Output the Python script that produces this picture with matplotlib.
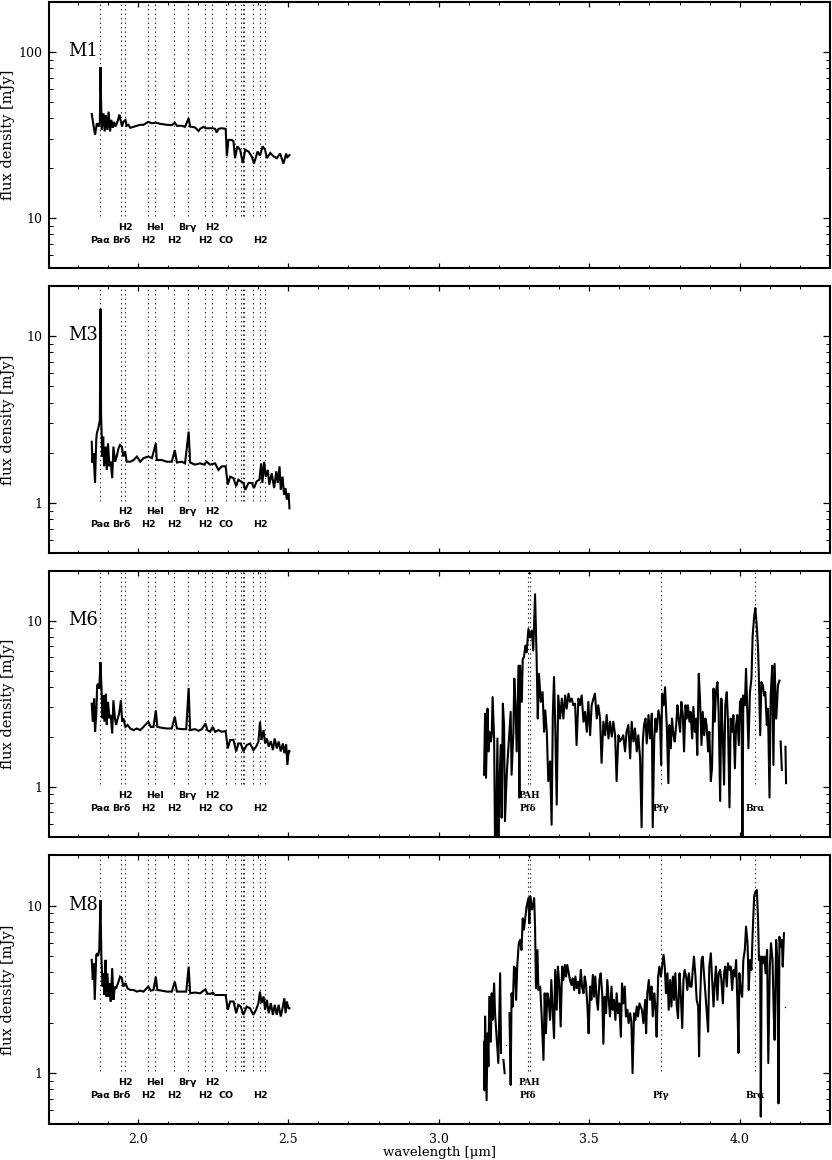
import matplotlib
matplotlib.use("Agg")
import matplotlib.pyplot as plt
from matplotlib.ticker import MultipleLocator, LogLocator, NullFormatter

nan = float("nan")

# ---------------- data ----------------
panel_names = ["M1", "M3", "M6", "M8"]

# K-band spectra
m1_wl = [1.847, 1.853, 1.858, 1.864, 1.870, 1.874, 1.876, 1.880, 1.886, 1.890, 1.894, 1.899, 1.903, 1.908,
         1.912, 1.917, 1.921, 1.926, 1.930, 1.936, 1.939, 1.944, 1.948, 1.952, 1.959, 1.963, 1.969, 1.975,
         1.986, 1.997, 2.008, 2.019, 2.035, 2.047, 2.060, 2.074, 2.096, 2.113, 2.123, 2.130, 2.146, 2.157,
         2.169, 2.174, 2.190, 2.202, 2.207, 2.218, 2.225, 2.235, 2.249, 2.257, 2.262, 2.268, 2.279, 2.292,
         2.296, 2.301, 2.312, 2.318, 2.323, 2.331, 2.340, 2.349, 2.357, 2.368, 2.379, 2.386, 2.398, 2.406,
         2.415, 2.423, 2.429, 2.440, 2.451, 2.462, 2.473, 2.484, 2.493, 2.497, 2.504]
m1_flux = [42.4, 36.0, 31.8, 37.3, 35.6, 38.0, 81.3, 34.0, 42.8, 33.3, 41.8, 34.0, 43.8, 33.3,
           39.1, 35.0, 38.0, 35.6, 37.0, 40.0, 42.0, 38.0, 35.6, 38.0, 39.0, 36.0, 36.5, 35.0,
           35.5, 36.0, 36.5, 36.5, 38.0, 37.3, 37.6, 37.0, 36.5, 36.3, 37.6, 36.0, 36.0, 35.5,
           40.0, 35.6, 35.2, 33.5, 34.5, 35.5, 34.8, 34.8, 34.8, 34.5, 32.8, 34.5, 34.8, 34.5,
           23.6, 29.6, 29.6, 29.0, 23.0, 27.1, 25.8, 21.5, 25.8, 25.2, 23.5, 21.3, 25.2, 23.8,
           27.1, 25.8, 23.0, 24.7, 23.6, 23.0, 24.5, 21.3, 24.5, 23.3, 24.0]

m3_wl = [1.847, 1.849, 1.853, 1.858, 1.862, 1.864, 1.867, 1.870, 1.874, 1.876, 1.878, 1.882, 1.885, 1.888,
         1.893, 1.897, 1.901, 1.906, 1.910, 1.915, 1.919, 1.925, 1.930, 1.936, 1.941, 1.947, 1.952, 1.958,
         1.963, 1.975, 1.986, 1.997, 2.008, 2.019, 2.035, 2.047, 2.060, 2.063, 2.080, 2.096, 2.113, 2.123,
         2.130, 2.146, 2.157, 2.169, 2.174, 2.190, 2.207, 2.220, 2.229, 2.240, 2.257, 2.268, 2.279, 2.292,
         2.299, 2.307, 2.318, 2.327, 2.334, 2.342, 2.351, 2.357, 2.368, 2.379, 2.386, 2.395, 2.404, 2.410,
         2.414, 2.420, 2.425, 2.432, 2.437, 2.445, 2.453, 2.460, 2.465, 2.471, 2.475, 2.481, 2.486, 2.491,
         2.495, 2.501, 2.504]
m3_flux = [2.33, 1.75, 1.99, 1.32, 2.40, 2.62, 2.74, 2.87, 3.15, 14.6, 3.45, 1.90, 2.50, 1.66,
           2.18, 1.58, 2.28, 1.66, 1.77, 1.41, 2.18, 1.77, 1.90, 2.13, 2.23, 2.18, 1.90, 2.04,
           1.77, 1.77, 1.81, 1.90, 1.77, 1.86, 1.90, 1.86, 2.28, 1.81, 1.81, 1.77, 1.77, 2.08,
           1.75, 1.77, 1.73, 2.68, 1.75, 1.70, 1.73, 1.70, 1.77, 1.70, 1.73, 1.58, 1.66, 1.66,
           1.29, 1.44, 1.41, 1.26, 1.38, 1.35, 1.32, 1.20, 1.32, 1.32, 1.23, 1.35, 1.38, 1.73,
           1.32, 1.77, 1.44, 1.58, 1.29, 1.51, 1.23, 1.55, 1.32, 1.66, 1.20, 1.44, 1.12, 1.23,
           1.05, 1.15, 0.93]

m6_wl = [1.847, 1.8505, 1.855, 1.858, 1.862, 1.865, 1.868, 1.872, 1.876, 1.879, 1.883, 1.886, 1.889, 1.894,
         1.897, 1.901, 1.906, 1.910, 1.915, 1.919, 1.924, 1.928, 1.932, 1.938, 1.944, 1.948, 1.952, 1.959,
         1.966, 1.975, 1.986, 1.997, 2.008, 2.019, 2.035, 2.043, 2.052, 2.060, 2.065, 2.080, 2.096, 2.113,
         2.123, 2.130, 2.146, 2.161, 2.169, 2.174, 2.190, 2.202, 2.213, 2.225, 2.231, 2.240, 2.249, 2.257,
         2.268, 2.279, 2.292, 2.299, 2.307, 2.318, 2.327, 2.334, 2.342, 2.351, 2.362, 2.373, 2.384, 2.393,
         2.401, 2.406, 2.411, 2.418, 2.423, 2.429, 2.435, 2.442, 2.449, 2.455, 2.462, 2.468, 2.475, 2.482,
         2.487, 2.493, 2.497, 2.502, 2.504]
m6_flux = [3.16, 2.46, 3.39, 2.14, 2.70, 4.07, 4.16, 3.89, 5.61, 4.07, 2.58, 3.55, 2.46, 3.63,
           2.35, 3.24, 2.58, 2.70, 2.09, 3.31, 2.58, 2.35, 2.52, 2.75, 3.31, 2.46, 2.58, 2.29,
           2.35, 2.24, 2.19, 2.24, 2.19, 2.29, 2.46, 2.29, 2.29, 2.88, 2.29, 2.26, 2.24, 2.24,
           2.64, 2.24, 2.22, 2.22, 3.93, 2.19, 2.22, 2.17, 2.22, 2.40, 2.19, 2.14, 2.29, 2.14,
           2.19, 2.14, 2.16, 1.70, 1.91, 1.91, 1.63, 1.82, 1.82, 1.63, 1.78, 1.82, 1.66, 1.74,
           1.87, 2.46, 1.91, 2.19, 1.82, 1.95, 1.74, 1.88, 1.66, 1.95, 1.70, 1.87, 1.63, 1.82,
           1.59, 1.80, 1.35, 1.66, 1.63]

m8_wl = [1.847, 1.8505, 1.854, 1.857, 1.862, 1.865, 1.868, 1.872, 1.876, 1.879, 1.883, 1.886, 1.889, 1.893,
         1.896, 1.899, 1.903, 1.906, 1.910, 1.915, 1.919, 1.924, 1.928, 1.936, 1.941, 1.947, 1.952, 1.959,
         1.966, 1.975, 1.986, 1.997, 2.008, 2.019, 2.035, 2.043, 2.052, 2.060, 2.065, 2.080, 2.096, 2.113,
         2.123, 2.130, 2.146, 2.161, 2.169, 2.174, 2.190, 2.207, 2.225, 2.231, 2.243, 2.249, 2.257, 2.274,
         2.292, 2.299, 2.307, 2.318, 2.327, 2.334, 2.342, 2.351, 2.362, 2.373, 2.384, 2.393, 2.401, 2.406,
         2.411, 2.418, 2.423, 2.429, 2.435, 2.442, 2.449, 2.455, 2.462, 2.468, 2.475, 2.482, 2.487, 2.491,
         2.495, 2.501, 2.504]
m8_flux = [4.75, 3.61, 4.53, 2.74, 5.09, 5.20, 5.00, 5.45, 10.8, 5.00, 3.29, 3.95, 2.93, 4.75,
           2.87, 3.95, 2.87, 3.45, 2.68, 4.24, 2.74, 3.29, 3.21, 3.52, 3.77, 3.69, 3.29, 3.45,
           3.21, 3.14, 3.14, 3.07, 3.11, 3.07, 3.29, 3.11, 3.14, 3.77, 3.14, 3.11, 3.07, 3.07,
           3.52, 3.07, 3.07, 3.07, 4.33, 3.00, 3.03, 3.00, 3.17, 2.98, 2.98, 3.03, 2.93, 2.93,
           2.93, 2.39, 2.68, 2.68, 2.28, 2.56, 2.50, 2.23, 2.50, 2.44, 2.23, 2.39, 2.62, 3.07,
           2.62, 2.87, 2.39, 2.74, 2.28, 2.62, 2.23, 2.56, 2.23, 2.56, 2.18, 2.50, 2.80, 2.28,
           2.68, 2.44, 2.44]

# L-band spectra (nan = gap)
m6_lwl = [3.1505, 3.154, 3.157, 3.162, 3.165, 3.168, 3.173, 3.176, 3.179, 3.184, 3.187, 3.190, 3.195, 3.198,
          3.201, 3.206, 3.209, 3.213, 3.217, 3.220, 3.226, 3.235, 3.239, 3.242, 3.248, 3.251, 3.255, 3.259,
          3.265, 3.268, 3.270, 3.276, 3.279, 3.283, 3.288, 3.292, 3.298, 3.303, 3.309, 3.314, 3.320, 3.325,
          3.329, 3.333, 3.339, 3.345, 3.350, 3.354, 3.359, 3.364, 3.370, 3.375, 3.379, 3.383, 3.387, 3.392,
          3.397, 3.403, 3.409, 3.414, 3.420, 3.425, 3.431, 3.436, 3.442, 3.447, 3.453, 3.458, 3.464, 3.469,
          3.475, 3.481, 3.486, 3.492, 3.497, 3.503, 3.508, 3.514, 3.519, 3.525, 3.530, 3.536, 3.541, 3.547,
          3.553, 3.558, 3.564, 3.569, 3.575, 3.580, 3.586, 3.591, 3.597, 3.602, 3.608, 3.613, 3.619, 3.624,
          3.630, 3.636, 3.641, 3.647, 3.652, 3.658, 3.663, 3.669, 3.674, 3.678, 3.682, 3.687, 3.691, 3.697,
          3.702, 3.708, 3.711, 3.716, 3.720, 3.724, 3.730, 3.735, 3.739, 3.742, 3.747, 3.752, 3.758, 3.763,
          3.766, 3.771, 3.775, 3.780, 3.784, 3.789, 3.793, 3.797, 3.802, 3.806, 3.811, 3.815, 3.820, 3.824,
          3.828, 3.833, 3.837, 3.842, 3.846, 3.851, 3.855, 3.859, 3.864, 3.868, 3.873, 3.877, 3.882, 3.886,
          3.890, 3.895, 3.899, 3.904, 3.908, 3.913, 3.917, 3.921, 3.926, 3.930, 3.935, 3.939, 3.944, 3.948,
          3.952, 3.957, 3.961, 3.966, 3.970, 3.975, 3.979, 3.984, 3.988, 3.992, 3.997, 4.001, 4.006, 4.009,
          4.012, 4.017, 4.021, 4.026, 4.029, 4.034, 4.039, 4.043, 4.048, 4.052, 4.057, 4.061, 4.063, 4.068,
          4.072, 4.077, 4.081, 4.085, 4.090, 4.094, 4.099, 4.103, 4.108, 4.112, 4.116, 4.121, 4.124, 4.127,
          4.132, 4.134, 4.136, 4.140, 4.146, 4.152, 4.154]
m6_lflux = [1.18, 2.75, 1.13, 2.95, 1.63, 2.14, 1.87, 2.04, 3.46, 1.95, 0.45, 0.45, 1.95, 0.45,
            0.90, 1.78, 0.65, 3.16, 2.35, 0.62, 1.20, 2.14, 2.82, 1.18, 2.14, 4.47, 3.09, 1.63,
            5.35, 0.86, 5.35, 3.24, 5.87, 6.00, 7.06, 6.44, 8.90, 7.90, 8.70, 6.60, 14.4, 6.15,
            2.57, 4.78, 3.24, 3.71, 2.14, 2.88, 2.14, 1.08, 1.42, 0.59, 2.70, 4.57, 2.35, 0.78,
            3.54, 2.57, 3.39, 2.57, 3.54, 2.95, 3.63, 3.24, 3.39, 3.09, 3.16, 1.78, 3.39, 3.09,
            3.54, 2.46, 2.82, 2.14, 3.24, 2.04, 3.09, 3.39, 3.63, 2.57, 3.09, 2.57, 1.39, 2.46,
            2.04, 2.70, 1.95, 2.46, 2.00, 2.46, 2.04, 1.08, 2.04, 1.87, 1.95, 2.04, 1.63, 2.14,
            2.35, 1.48, 2.46, 1.87, 2.24, 1.63, 2.04, 1.48, 0.57, 1.87, 2.35, 2.57, 1.82, 2.70,
            1.95, 2.75, 0.57, 1.95, 2.57, 2.14, 2.88, 2.57, 1.35, 3.63, 3.09, 3.97, 2.24, 1.05,
            2.35, 1.70, 2.57, 2.04, 1.87, 2.35, 3.09, 2.57, 2.14, 3.24, 2.70, 1.63, 3.09, 2.57,
            3.09, 2.46, 2.82, 1.95, 3.02, 2.14, 2.57, 1.55, 4.78, 3.39, 1.78, 2.82, 2.04, 2.57,
            2.35, 1.63, 2.14, 1.08, 1.29, 3.89, 2.46, 3.71, 4.26, 2.82, 0.82, 3.39, 1.95, 1.03,
            3.09, 3.71, 2.46, 0.75, 2.57, 2.14, 2.70, 1.29, 2.35, 2.70, 1.78, 3.24, 3.39, 0.45,
            3.54, 3.09, 5.12, 2.57, 1.70, 3.71, 4.47, 8.10, 10.6, 11.9, 9.10, 6.70, 5.10, 2.04,
            4.26, 4.07, 3.54, 3.71, 2.35, 2.95, 0.86, 3.54, 5.35, 1.35, 5.48, 2.57, 3.09, 4.07,
            4.35, nan, 1.87, 1.26, nan, 1.74, 1.05]

m8_lwl = [3.1505, 3.152, 3.154, 3.159, 3.162, 3.165, 3.168, 3.173, 3.176, 3.179, 3.184, 3.187, 3.190, 3.195,
          3.198, 3.204, 3.207, 3.211, 3.215, 3.219, 3.227, 3.235, 3.239, 3.242, 3.246, 3.250, 3.254, 3.257,
          3.261, 3.266, 3.270, 3.275, 3.279, 3.283, 3.288, 3.292, 3.298, 3.301, 3.304, 3.309, 3.312, 3.317,
          3.320, 3.323, 3.328, 3.331, 3.337, 3.342, 3.348, 3.352, 3.356, 3.361, 3.365, 3.370, 3.374, 3.379,
          3.383, 3.387, 3.392, 3.396, 3.401, 3.405, 3.410, 3.414, 3.419, 3.423, 3.427, 3.432, 3.436, 3.441,
          3.445, 3.450, 3.454, 3.458, 3.463, 3.467, 3.472, 3.476, 3.481, 3.485, 3.489, 3.494, 3.498, 3.503,
          3.507, 3.512, 3.516, 3.520, 3.525, 3.529, 3.534, 3.538, 3.543, 3.547, 3.551, 3.556, 3.560, 3.565,
          3.569, 3.574, 3.578, 3.582, 3.587, 3.591, 3.596, 3.600, 3.605, 3.609, 3.613, 3.618, 3.622, 3.627,
          3.631, 3.636, 3.640, 3.644, 3.649, 3.653, 3.658, 3.662, 3.667, 3.675, 3.680, 3.686, 3.689, 3.693,
          3.698, 3.702, 3.707, 3.711, 3.716, 3.720, 3.724, 3.729, 3.733, 3.738, 3.742, 3.747, 3.751, 3.755,
          3.760, 3.764, 3.769, 3.773, 3.778, 3.782, 3.786, 3.791, 3.795, 3.800, 3.804, 3.809, 3.813, 3.817,
          3.822, 3.826, 3.831, 3.835, 3.840, 3.844, 3.848, 3.853, 3.857, 3.862, 3.865, 3.868, 3.873, 3.877,
          3.882, 3.886, 3.890, 3.895, 3.899, 3.904, 3.908, 3.913, 3.917, 3.921, 3.926, 3.930, 3.935, 3.939,
          3.944, 3.948, 3.952, 3.957, 3.961, 3.966, 3.970, 3.975, 3.979, 3.984, 3.988, 3.992, 3.996, 3.999,
          4.003, 4.008, 4.012, 4.017, 4.021, 4.026, 4.030, 4.034, 4.039, 4.043, 4.048, 4.052, 4.057, 4.061,
          4.064, 4.068, 4.070, 4.073, 4.078, 4.082, 4.086, 4.091, 4.095, 4.100, 4.104, 4.109, 4.113, 4.116,
          4.121, 4.125, 4.129, 4.132, 4.136, 4.140, 4.143, 4.147]
m8_lflux = [1.54, 0.79, 2.18, 0.69, 1.73, 1.10, 2.86, 1.54, 3.00, 2.08, 3.44, 2.28, 1.90, 1.38,
            1.15, 3.95, 1.32, nan, 1.20, 1.00, nan, 2.28, 0.85, 3.00, 2.50, 4.33, 4.23, 2.74,
            4.43, 5.97, 6.25, 5.44, 8.40, 7.20, 8.60, 9.90, 11.1, 7.85, 11.4, 9.50, 9.90, 11.1,
            7.50, 3.22, 5.44, 3.14, 3.29, 2.18, 1.20, 3.00, 1.73, 3.00, 2.74, 2.08, 3.60, 2.28,
            1.62, 4.14, 2.39, 4.33, 3.29, 1.90, 4.33, 3.60, 4.43, 3.78, 4.43, 3.95, 3.60, 3.36,
            3.68, 3.14, 3.78, 3.22, 3.52, 3.00, 4.14, 3.29, 3.00, 3.78, 3.44, 2.50, 1.73, 3.29,
            2.74, 3.86, 2.86, 3.78, 2.74, 2.39, 3.60, 3.95, 3.00, 1.50, 2.86, 2.28, 3.60, 2.74,
            2.18, 3.29, 2.39, 2.74, 2.08, 3.00, 2.28, 2.61, 1.65, 3.44, 2.61, 3.29, 2.18, 2.39,
            1.99, 2.28, 2.03, 1.00, 2.28, 2.08, 2.50, 2.18, 2.61, 2.39, 1.99, 2.74, 1.73, 3.00,
            3.60, 2.74, 3.29, 2.18, 3.00, 2.50, 1.65, 3.78, 4.33, 3.78, 4.33, 5.09, 4.33, 3.00,
            3.95, 2.39, 3.60, 2.50, 3.78, 2.74, 3.95, 2.50, 2.13, 3.95, 3.00, 1.86, 3.60, 4.14,
            3.78, 3.14, 3.95, 3.29, 3.29, 4.14, 4.97, 3.78, 2.74, 2.50, 1.26, 2.61, 4.74, 4.97,
            3.78, 3.00, 2.39, 1.77, 4.33, 5.20, 3.78, 2.50, 3.44, 4.33, 2.74, 3.95, 4.14, 3.60,
            2.61, 3.95, 4.33, 3.29, 4.53, 4.14, 4.33, 3.14, 4.14, 3.78, 4.74, 2.74, 1.32, 3.95,
            3.14, 2.86, 4.74, 5.45, 7.50, 5.97, 3.14, 4.74, 4.14, 6.85, 11.4, 12.1, 12.4, 8.20,
            4.74, 4.97, 0.55, 4.97, 4.53, 4.97, 3.95, 5.45, 1.15, 4.33, 5.97, 4.74, 2.28, 1.58,
            6.25, 4.74, 0.66, 6.53, 5.70, 6.25, 4.33, 6.85]
# isolated single points of the M8 L-band spectrum
m8_dot_wl = [3.224, 4.151]
m8_dot_flux = [1.48, 2.50]

# spectral line positions and labels
kline_wl = [1.8751, 1.9446, 1.9576, 2.0338, 2.0587, 2.1218, 2.1661, 2.2235, 2.2477, 2.2935,
            2.3227, 2.3445, 2.3485, 2.3525, 2.3829, 2.4066, 2.4237]
kup_names = ["H2", "HeI", "Br\u03b3", "H2"]
kup_wl = [1.9576, 2.0587, 2.1661, 2.2477]
klow_names = ["Pa\u03b1", "Br\u03b4", "H2", "H2", "H2", "CO", "H2"]
klow_wl = [1.8751, 1.9446, 2.0338, 2.1218, 2.2235, 2.2935, 2.4066]
lline_wl = [3.2961, 3.3033, 3.7395, 4.0523]
lup_names = ["PAH"]
lup_wl = [3.300]
llow_names = ["Pf\u03b4", "Pf\u03b3", "Br\u03b1"]
llow_wl = [3.2961, 3.7395, 4.0523]

k_wl = [m1_wl, m3_wl, m6_wl, m8_wl]
k_flux = [m1_flux, m3_flux, m6_flux, m8_flux]
l_wl = [None, None, m6_lwl, m8_lwl]
l_flux = [None, None, m6_lflux, m8_lflux]
ylims = [(5.0, 200.0), (0.5, 20.0), (0.5, 20.0), (0.5, 20.0)]
yticks = [[10, 100], [1, 10], [1, 10], [1, 10]]

# ---------------- figure ----------------
W, H = 832, 1160
fig = plt.figure(figsize=(W / 100, H / 100), dpi=100)
panel_px = [(2.0, 268.3), (286.0, 553.3), (570.5, 836.7), (855.3, 1123.6)]
left_px, right_px = 49.0, 830.0

serif = "DejaVu Serif"
for i in range(4):
    top, bot = panel_px[i]
    ax = fig.add_axes([left_px / W, 1 - bot / H, (right_px - left_px) / W, (bot - top) / H])
    ax.set_yscale("log")
    ax.set_xlim(1.705, 4.30)
    ax.set_ylim(*ylims[i])
    for sp in ax.spines.values():
        sp.set_linewidth(1.5)

    # dotted line markers
    for w in kline_wl:
        ax.axvline(w, ymin=0.197, ymax=1.0, color="0.15", lw=0.75, ls=(0, (1.3, 3.0)))
    xt = ax.get_xaxis_transform()
    for n, w in zip(kup_names, kup_wl):
        ax.text(w, 0.155, n, transform=xt, ha="center", va="center", fontsize=6.8,
                fontweight="bold", family="DejaVu Sans")
    for n, w in zip(klow_names, klow_wl):
        ax.text(w, 0.106, n, transform=xt, ha="center", va="center", fontsize=6.8,
                fontweight="bold", family="DejaVu Sans")

    ax.plot(k_wl[i], k_flux[i], color="black", lw=1.5, solid_joinstyle="miter")

    if l_wl[i] is not None:
        for w in lline_wl:
            ax.axvline(w, ymin=0.197, ymax=1.0, color="0.15", lw=0.75, ls=(0, (1.3, 3.0)))
        for n, w in zip(lup_names, lup_wl):
            ax.text(w, 0.155, n, transform=xt, ha="center", va="center", fontsize=6.5,
                    fontweight="bold", family=serif)
        for n, w in zip(llow_names, llow_wl):
            ax.text(w, 0.106, n, transform=xt, ha="center", va="center", fontsize=6.5,
                    fontweight="bold", family=serif)
        ax.plot(l_wl[i], l_flux[i], color="black", lw=1.5)
    if i == 3:
        ax.plot(m8_dot_wl, m8_dot_flux, ls="none", marker="o", ms=1.0, mew=0, color="black")

    # ticks
    ax.xaxis.set_major_locator(MultipleLocator(0.5))
    ax.xaxis.set_minor_locator(MultipleLocator(0.1))
    ax.set_yticks(yticks[i])
    ax.set_yticklabels([str(v) for v in yticks[i]])
    ax.yaxis.set_minor_locator(LogLocator(base=10, subs=[2, 3, 4, 5, 6, 7, 8, 9]))
    ax.yaxis.set_minor_formatter(NullFormatter())
    ax.tick_params(axis="both", which="both", direction="in", top=True, right=True)
    ax.tick_params(axis="x", which="major", length=3.5, width=0.9, pad=7)
    ax.tick_params(axis="x", which="minor", length=2.0, width=0.7)
    ax.tick_params(axis="y", which="major", length=5.0, width=0.9, pad=5)
    ax.tick_params(axis="y", which="minor", length=2.8, width=0.7)
    for lab in ax.get_xticklabels() + ax.get_yticklabels():
        lab.set_fontfamily(serif)
        lab.set_fontsize(9)
    if i < 3:
        ax.tick_params(axis="x", labelbottom=False)
    else:
        ax.xaxis.set_major_formatter(plt.FuncFormatter(lambda v, p: "%.1f" % v))
        ax.set_xlabel("wavelength [\u03bcm]", family=serif, fontsize=9.5)
        ax.xaxis.set_label_coords(0.5, -0.083)

    ax.set_ylabel("flux density [mJy]", family=serif, fontsize=10.5)
    ax.yaxis.set_label_coords(-0.043, 0.5)
    ax.text(0.024, 0.815, panel_names[i], transform=ax.transAxes, ha="left", va="center",
            fontsize=13, family=serif)

fig.savefig("out.png", dpi=100)
